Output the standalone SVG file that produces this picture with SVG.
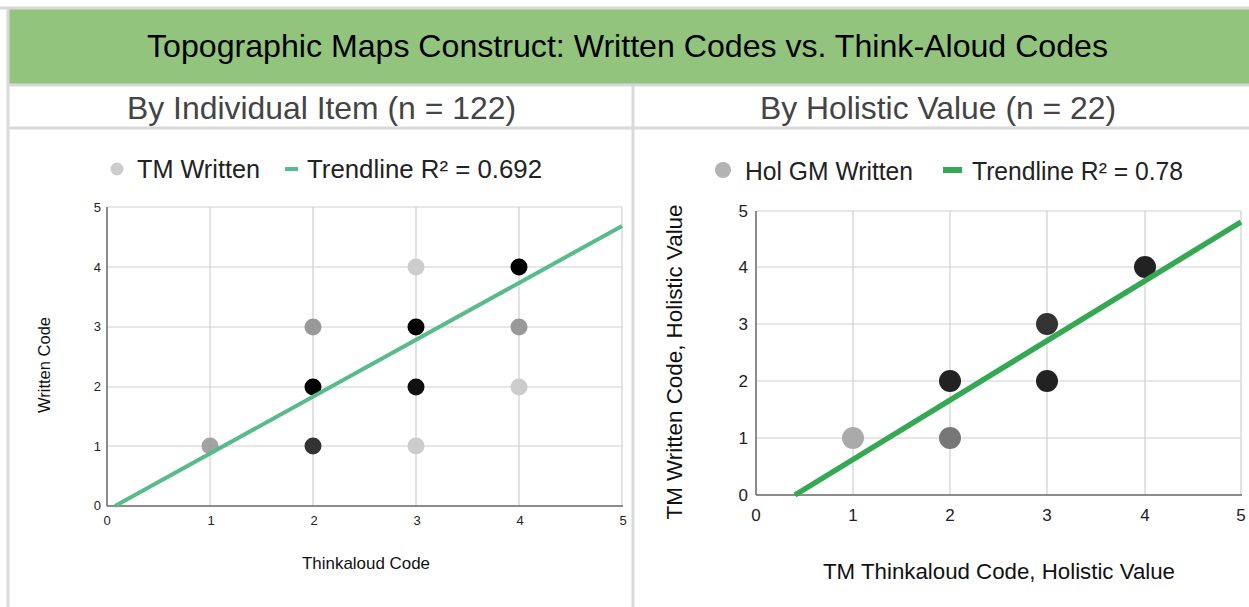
<svg xmlns="http://www.w3.org/2000/svg" width="1249" height="607" viewBox="0 0 1249 607">
<style>
text{font-family:"Liberation Sans",Arial,sans-serif}
.grid{stroke:#d0d0d0;stroke-width:1.2;fill:none}
.axis{stroke:#666;stroke-width:1.5}
.tk{font-size:13px;fill:#222}
.tk2{font-size:17px;fill:#222}
.sub{font-size:32px;fill:#444}
.leg{font-size:25.5px;fill:#222}
.border{stroke:#d9d9d9;stroke-width:3;fill:none}
</style>
<rect width="1249" height="607" fill="#fff"/>
<g id="title">
<rect x="8" y="9" width="1241" height="75" fill="#93c47d"/>
<text x="147" y="57" font-size="32" fill="#000" textLength="961" lengthAdjust="spacingAndGlyphs">Topographic Maps Construct: Written Codes vs. Think-Aloud Codes</text>
</g>
<g id="table-lines">
<line class="border" x1="0" y1="8" x2="1249" y2="8"/>
<line class="border" x1="8" y1="85" x2="1249" y2="85"/>
<line class="border" x1="8" y1="128" x2="1249" y2="128"/>
<line class="border" x1="8" y1="7" x2="8" y2="607"/>
<line class="border" x1="633" y1="85" x2="633" y2="607"/>
</g>
<g id="subtitles">
<text class="sub" x="127" y="119" textLength="389" lengthAdjust="spacingAndGlyphs">By Individual Item (n = 122)</text>
<text class="sub" x="760" y="119" textLength="356" lengthAdjust="spacingAndGlyphs">By Holistic Value (n = 22)</text>
</g>
<g id="chart-left">
<g id="legend-left">
<circle cx="117" cy="169" r="6.5" fill="#cccccc"/>
<text class="leg" x="137" y="178" textLength="123" lengthAdjust="spacingAndGlyphs">TM Written</text>
<line x1="285" y1="169" x2="298" y2="169" stroke="#57bb8a" stroke-width="4"/>
<text class="leg" x="307" y="178" textLength="235" lengthAdjust="spacingAndGlyphs">Trendline R² = 0.692</text>
</g>
<g id="grid-left">
<path class="grid" d="M107 207H622M107 267H622M107 327H622M107 387H622M107 446H622M210 207V506M313 207V506M416 207V506M519 207V506M622 207V506"/>
<line class="axis" x1="107" y1="207" x2="107" y2="506"/>
<line class="axis" x1="107" y1="506" x2="623" y2="506"/>
</g>
<g id="ticks-left" class="tk">
<text x="101" y="212" text-anchor="end">5</text>
<text x="101" y="272" text-anchor="end">4</text>
<text x="101" y="331" text-anchor="end">3</text>
<text x="101" y="391" text-anchor="end">2</text>
<text x="101" y="451" text-anchor="end">1</text>
<text x="101" y="510" text-anchor="end">0</text>
<text x="107" y="525" text-anchor="middle">0</text>
<text x="211" y="525" text-anchor="middle">1</text>
<text x="314" y="525" text-anchor="middle">2</text>
<text x="417" y="525" text-anchor="middle">3</text>
<text x="520" y="525" text-anchor="middle">4</text>
<text x="623" y="525" text-anchor="middle">5</text>
</g>
<text x="302" y="569" font-size="17" fill="#111" textLength="128" lengthAdjust="spacingAndGlyphs">Thinkaloud Code</text>
<text transform="translate(50,365) rotate(-90)" font-size="16.5" text-anchor="middle" fill="#111">Written Code</text>
<g id="points-left">
<circle cx="210" cy="446" r="8.5" fill="#999" fill-opacity="0.9"/>
<circle cx="313" cy="446" r="8.5" fill="#333"/>
<circle cx="313" cy="387" r="8.5" fill="#000"/>
<circle cx="313" cy="327" r="8.5" fill="#999"/>
<circle cx="416" cy="446" r="8.5" fill="#ccc"/>
<circle cx="416" cy="387" r="8.5" fill="#111"/>
<circle cx="416" cy="327" r="8.5" fill="#000"/>
<circle cx="416" cy="267" r="8.5" fill="#ccc"/>
<circle cx="519" cy="387" r="8.5" fill="#ccc"/>
<circle cx="519" cy="327" r="8.5" fill="#999"/>
<circle cx="519" cy="267" r="8.5" fill="#000"/>
</g>
<line id="trend-left" x1="115" y1="506" x2="622" y2="226" stroke="#57bb8a" stroke-width="4"/>
</g>
<g id="chart-right">
<g id="legend-right">
<circle cx="723" cy="170" r="8" fill="#b3b3b3"/>
<text class="leg" x="745" y="180" textLength="168" lengthAdjust="spacingAndGlyphs">Hol GM Written</text>
<line x1="943" y1="170" x2="962" y2="170" stroke="#34a853" stroke-width="6"/>
<text class="leg" x="972" y="180" textLength="211" lengthAdjust="spacingAndGlyphs">Trendline R² = 0.78</text>
</g>
<g id="grid-right">
<path class="grid" d="M756 211H1241M756 267H1241M756 324H1241M756 381H1241M756 438H1241M853 211V495M950 211V495M1047 211V495M1145 211V495M1241 211V495"/>
<line class="axis" x1="756" y1="211" x2="756" y2="495"/>
<line class="axis" x1="756" y1="495" x2="1242" y2="495"/>
</g>
<g id="ticks-right" class="tk2">
<text x="748" y="217" text-anchor="end">5</text>
<text x="748" y="273" text-anchor="end">4</text>
<text x="748" y="330" text-anchor="end">3</text>
<text x="748" y="387" text-anchor="end">2</text>
<text x="748" y="444" text-anchor="end">1</text>
<text x="748" y="501" text-anchor="end">0</text>
<text x="756" y="521" text-anchor="middle">0</text>
<text x="853" y="521" text-anchor="middle">1</text>
<text x="950" y="521" text-anchor="middle">2</text>
<text x="1047" y="521" text-anchor="middle">3</text>
<text x="1145" y="521" text-anchor="middle">4</text>
<text x="1241" y="521" text-anchor="middle">5</text>
</g>
<text x="823" y="579" font-size="22.3" fill="#111" textLength="352" lengthAdjust="spacingAndGlyphs">TM Thinkaloud Code, Holistic Value</text>
<text transform="translate(682,362) rotate(-90)" font-size="22.4" text-anchor="middle" fill="#111" textLength="315" lengthAdjust="spacingAndGlyphs">TM Written Code, Holistic Value</text>
<g id="points-right">
<circle cx="853" cy="438" r="11" fill="#aaa"/>
<circle cx="950" cy="438" r="11" fill="#777"/>
<circle cx="950" cy="381" r="11" fill="#222"/>
<circle cx="1047" cy="381" r="11" fill="#222"/>
<circle cx="1047" cy="324" r="11" fill="#333"/>
<circle cx="1145" cy="267" r="11" fill="#222"/>
</g>
<line id="trend-right" x1="795" y1="495" x2="1241" y2="222" stroke="#34a853" stroke-width="5.5"/>
</g>
</svg>
